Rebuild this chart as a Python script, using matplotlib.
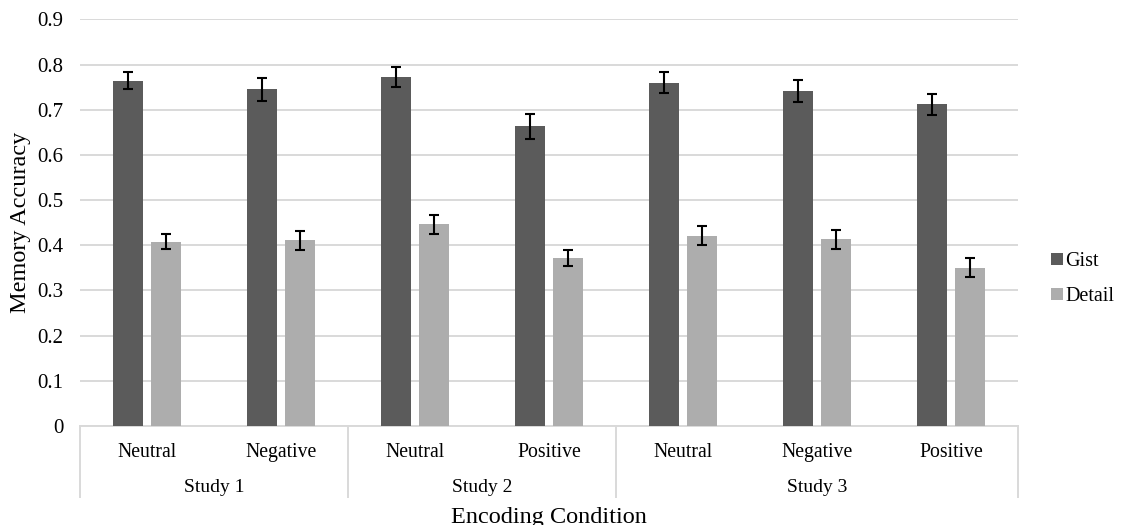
import numpy as np
import matplotlib
matplotlib.use("Agg")
import matplotlib.pyplot as plt
from matplotlib.patches import Patch

# values
studies = ["Study 1", "Study 2", "Study 3"]
conditions = ["Neutral", "Negative", "Neutral", "Positive", "Neutral", "Negative", "Positive"]
group_sizes = [2, 2, 3]
gist = [0.764, 0.745, 0.772, 0.663, 0.760, 0.742, 0.712]
gist_err = [0.019, 0.025, 0.022, 0.028, 0.023, 0.024, 0.023]
detail = [0.408, 0.411, 0.446, 0.372, 0.421, 0.413, 0.350]
detail_err = [0.016, 0.021, 0.021, 0.018, 0.021, 0.021, 0.021]

GIST_COLOR = "#5b5b5b"
DETAIL_COLOR = "#adadad"
GRID_COLOR = "#d9d9d9"

plt.rcParams["font.family"] = ["Liberation Serif", "DejaVu Serif"]

fig = plt.figure(figsize=(11.22, 5.25), dpi=100)
ax = fig.add_axes([0.0713, 0.1886, 0.836, 0.7746])

x = np.arange(len(conditions))
width = 0.224
offset = 0.142
err_kw = dict(ecolor="black", elinewidth=1.5, capsize=3.8, capthick=1.5)
ax.bar(x - offset, gist, width, color=GIST_COLOR, yerr=gist_err, error_kw=err_kw, zorder=3, label="Gist")
ax.bar(x + offset, detail, width, color=DETAIL_COLOR, yerr=detail_err, error_kw=err_kw, zorder=3, label="Detail")

ax.set_xlim(-0.5, len(conditions) - 0.5)
ax.set_ylim(0, 0.9)
ax.set_yticks(np.arange(0, 0.91, 0.1))
ax.set_yticklabels(["0"] + ["%.1f" % v for v in np.arange(0.1, 0.91, 0.1)], fontsize=15)
ax.tick_params(axis="y", length=0, pad=12)
ax.yaxis.grid(True, color=GRID_COLOR, linewidth=1.4, zorder=0)
for s in ["top", "right", "left"]:
    ax.spines[s].set_visible(False)
ax.spines["bottom"].set_color(GRID_COLOR)
ax.spines["bottom"].set_linewidth(1.4)

# category labels and study groups
ax.set_xticks([])
trans = ax.get_xaxis_transform()
for xi, lab in zip(x, conditions):
    ax.text(xi, -0.0754, lab, transform=trans, ha="center", va="baseline", fontsize=14.2)

start = 0
bounds = [-0.5]
for name, n in zip(studies, group_sizes):
    mid = start + (n - 1) / 2
    ax.text(mid, -0.163, name, transform=trans, ha="center", va="baseline", fontsize=14)
    start += n
    bounds.append(start - 0.5)
for b in bounds:
    ax.plot([b, b], [0, -0.1745], transform=trans, color=GRID_COLOR, linewidth=1.4, clip_on=False)

fig.text(0.0185, 0.576, "Memory Accuracy", rotation=90, ha="center", va="center", fontsize=17.5)
fig.text(0.4893, 0.004, "Encoding Condition", ha="center", va="baseline", fontsize=17.5)

handles = [Patch(facecolor=GIST_COLOR, label="Gist"), Patch(facecolor=DETAIL_COLOR, label="Detail")]
fig.legend(handles=handles, loc="center left", bbox_to_anchor=(0.921, 0.469), frameon=False,
           fontsize=14.5, handlelength=0.55, handleheight=0.55, handletextpad=0.12, labelspacing=0.8,
           borderpad=0.4)

fig.savefig("out.png", dpi=100)
